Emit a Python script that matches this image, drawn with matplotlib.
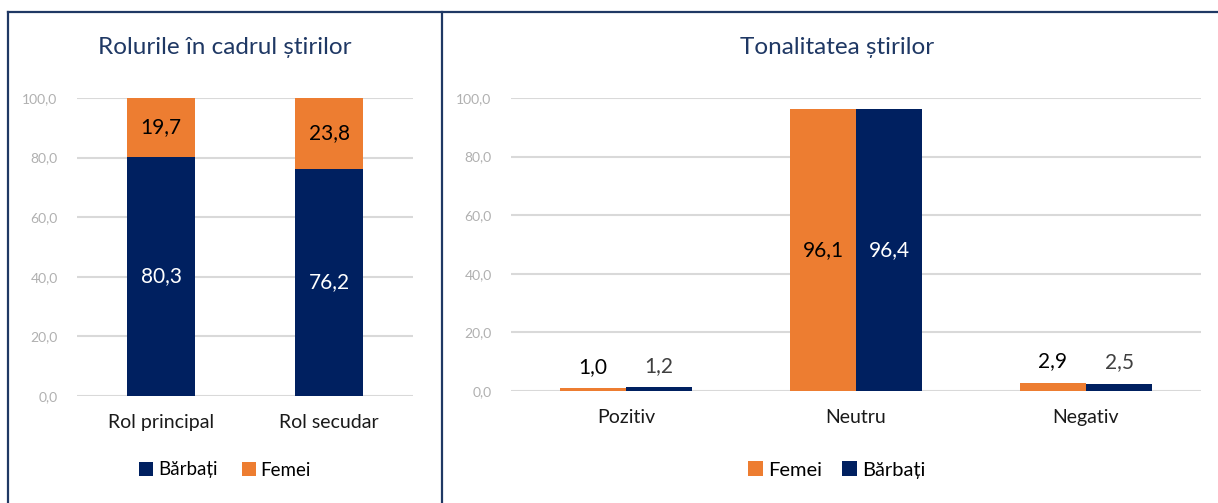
import matplotlib.pyplot as plt
import numpy as np
from matplotlib.lines import Line2D

plt.rcParams['font.family'] = ['Lato', 'DejaVu Sans']

# left chart: roles
role_cats = ['Rol principal', 'Rol secudar']
role_barbati = [80.3, 76.2]
role_femei = [19.7, 23.8]

# right chart: tone
tone_cats = ['Pozitiv', 'Neutru', 'Negativ']
tone_femei = [1.0, 96.1, 2.9]
tone_barbati = [1.2, 96.4, 2.5]

yticks = [0, 20, 40, 60, 80, 100]

ORANGE = '#ED7D31'
NAVY = '#002060'
TITLE = '#1F3864'
GRID = '#D9D9D9'
TICK = '#B0B0B0'
W, H = 1218, 503


def fmt(v):
    return f'{v:.1f}'.replace('.', ',')


def style_axes(ax):
    for s in ax.spines.values():
        s.set_visible(False)
    ax.set_ylim(0, 100)
    ax.set_yticks(yticks)
    ax.set_yticklabels([fmt(v) for v in yticks], color=TICK, fontsize=10)
    ax.tick_params(axis='y', length=0, pad=14)
    ax.tick_params(axis='x', length=0, pad=13, labelsize=14, labelcolor='#1a1a1a')
    ax.grid(axis='y', color=GRID, linewidth=1.5)
    ax.set_axisbelow(True)


fig = plt.figure(figsize=(W / 100, H / 100), dpi=100)

# --- left chart ---
ax1 = fig.add_axes([77 / W, (H - 396) / H, 336 / W, 298 / H])
x1 = np.arange(len(role_cats))
b1 = ax1.bar(x1, role_barbati, 0.4, color=NAVY, label='Bărbați')
b2 = ax1.bar(x1, role_femei, 0.4, bottom=role_barbati, color=ORANGE, label='Femei')
ax1.set_xlim(-0.5, 1.5)
ax1.set_xticks(x1)
ax1.set_xticklabels(role_cats)
style_axes(ax1)
for i in range(len(role_cats)):
    ax1.text(x1[i], role_barbati[i] / 2, fmt(role_barbati[i]), ha='center', va='center',
             color='white', fontsize=15)
    ax1.text(x1[i], role_barbati[i] + role_femei[i] / 2, fmt(role_femei[i]), ha='center',
             va='center', color='black', fontsize=15)
fig.text(225 / W, 1 - 48 / H, 'Rolurile în cadrul știrilor', ha='center', va='center',
         color=TITLE, fontsize=17.5)
fig.legend(handles=[b1, b2], loc='center', bbox_to_anchor=(225 / W, 1 - 470 / H),
           ncol=2, frameon=False, fontsize=13.5, handlelength=0.75, handleheight=0.75,
           handletextpad=0.25, columnspacing=1.3)

# --- right chart ---
ax2 = fig.add_axes([511 / W, (H - 391) / H, 690 / W, 293 / H])
x2 = np.arange(len(tone_cats))
bw = 0.287
r1 = ax2.bar(x2 - bw / 2, tone_femei, bw, color=ORANGE, label='Femei')
r2 = ax2.bar(x2 + bw / 2, tone_barbati, bw, color=NAVY, label='Bărbați')
ax2.set_xlim(-0.5, 2.5)
ax2.set_xticks(x2)
ax2.set_xticklabels(tone_cats)
style_axes(ax2)
for i in range(len(tone_cats)):
    if tone_femei[i] > 50:
        ax2.text(x2[i] - bw / 2, tone_femei[i] / 2, fmt(tone_femei[i]), ha='center',
                 va='center', color='black', fontsize=15)
        ax2.text(x2[i] + bw / 2, tone_barbati[i] / 2, fmt(tone_barbati[i]), ha='center',
                 va='center', color='white', fontsize=15)
    else:
        ax2.annotate(fmt(tone_femei[i]), (x2[i] - bw / 2, tone_femei[i]), xytext=(0, 8),
                     textcoords='offset points', ha='center', va='bottom', color='black',
                     fontsize=15)
        ax2.annotate(fmt(tone_barbati[i]), (x2[i] + bw / 2, tone_barbati[i]), xytext=(0, 8),
                     textcoords='offset points', ha='center', va='bottom', color='#404040',
                     fontsize=15)
fig.text(837 / W, 1 - 48 / H, 'Tonalitatea știrilor', ha='center', va='center',
         color=TITLE, fontsize=17.5)
fig.legend(handles=[r1, r2], loc='center', bbox_to_anchor=(837 / W, 1 - 470 / H),
           ncol=2, frameon=False, fontsize=14.5, handlelength=0.75, handleheight=0.75,
           handletextpad=0.25, columnspacing=1.0)

# frame lines
lc = '#1F3864'
fig.add_artist(Line2D([8 / W, 1], [1 - 12 / H, 1 - 12 / H], color=lc, lw=1.6,
                      transform=fig.transFigure))
fig.add_artist(Line2D([8 / W, 8 / W], [0, 1 - 12 / H], color=lc, lw=1.6,
                      transform=fig.transFigure))
fig.add_artist(Line2D([442 / W, 442 / W], [0, 1 - 12 / H], color=lc, lw=1.6,
                      transform=fig.transFigure))

fig.savefig('out.png', dpi=100)
